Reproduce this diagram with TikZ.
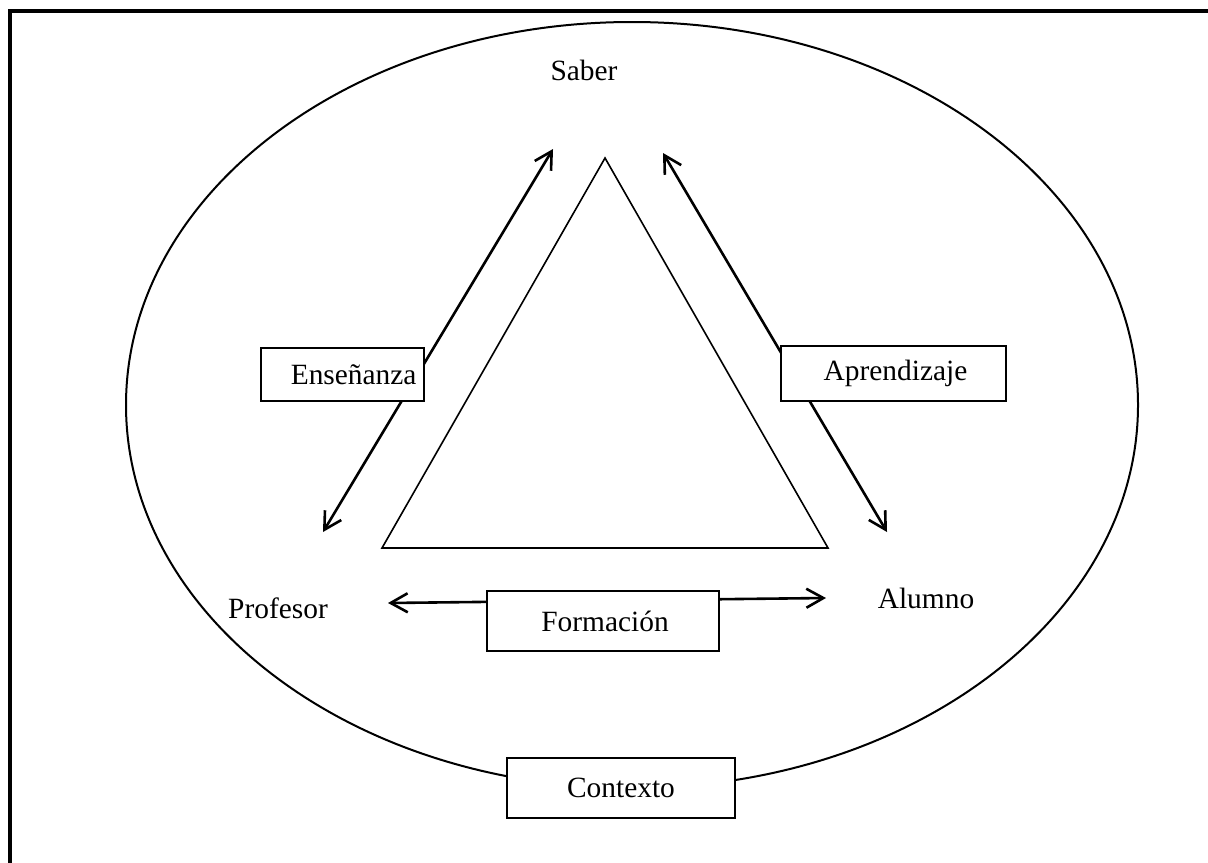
\documentclass[tikz,border=0pt]{standalone}
\usepackage{fontspec}
\setmainfont{Liberation Serif}
\usetikzlibrary{arrows.meta}
\begin{document}
\begin{tikzpicture}[x=0.5pt,y=-0.5pt,
  lbl/.style={font=\fontsize{14.7pt}{17pt}\selectfont, inner sep=0pt},
  boxnode/.style={draw, line width=1pt, fill=white, font=\fontsize{14.7pt}{17pt}\selectfont, inner sep=0pt, anchor=north west},
  dblarrow/.style={line width=1.3pt, {Straight Barb[length=8.5pt,width=9.5pt]}-{Straight Barb[length=8.5pt,width=9.5pt]}}
]
\useasboundingbox (0,0) rectangle (1208,862);
% frame (top and left edges only visible)
\draw[line width=1.6pt] (10,870) -- (10,11) -- (1215,11);
% context ellipse
\draw[line width=1pt] (632,405) ellipse [x radius=253pt, y radius=191.5pt];
% triangle
\draw[line width=0.8pt] (605,158) -- (382,548) -- (828,548) -- cycle;
% text labels
\node[lbl] (saber) at (584,70) {Saber};
\node[lbl] (profesor) at (278,608) {Profesor};
\node[lbl] (alumno) at (926,598) {Alumno};
% arrow end points
\coordinate (ensA) at (323,532);
\coordinate (ensB) at (553,149);
\coordinate (apA) at (663,153);
\coordinate (apB) at (887,532);
\coordinate (forA) at (388,603);
\coordinate (forB) at (826,598);
\draw[dblarrow] (ensA) -- (ensB);
\draw[dblarrow] (apB) -- (apA);
\draw[dblarrow] (forA) -- (forB);
% boxes
\node[boxnode, minimum width=81.5pt, minimum height=26.5pt] (ens) at (260,347) {\makebox[81pt][r]{Enseñanza\hspace{3.5pt}}};
\node[boxnode, minimum width=112.5pt, minimum height=27.5pt] (apr) at (780,345) {\hspace{2pt}Aprendizaje};
\node[boxnode, minimum width=116pt, minimum height=30pt] (form) at (486,590) {\hspace{2pt}Formación};
\node[boxnode, minimum width=114pt, minimum height=30pt] (ctx) at (506,757) {Contexto};
\end{tikzpicture}
\end{document}
